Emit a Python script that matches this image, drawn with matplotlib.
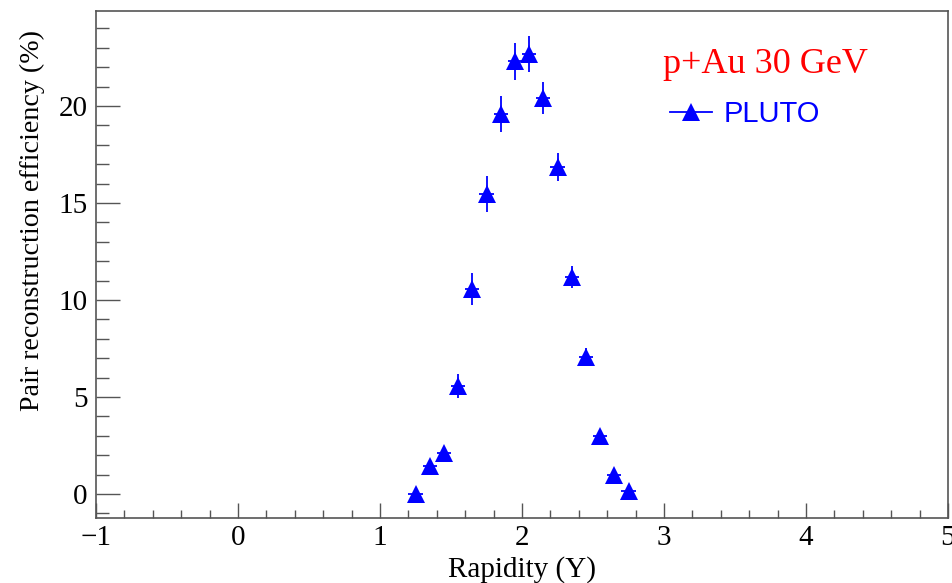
import numpy as np
import matplotlib.pyplot as plt
from matplotlib.ticker import MultipleLocator
from matplotlib.lines import Line2D

# efficiency vs rapidity (bin centres, 0.1 wide bins)
rapidity = [1.25, 1.35, 1.45, 1.55, 1.65, 1.75, 1.85, 1.95,
            2.05, 2.15, 2.25, 2.35, 2.45, 2.55, 2.65, 2.75]
efficiency = [0.0, 1.45, 2.1, 5.55, 10.55, 15.45, 19.6, 22.3,
              22.7, 20.4, 16.85, 11.2, 7.05, 2.98, 0.98, 0.15]
eff_err = [0.25, 0.3, 0.3, 0.62, 0.82, 0.92, 0.93, 0.95,
           0.92, 0.82, 0.74, 0.56, 0.46, 0.3, 0.25, 0.2]
x_err = [0.05] * len(rapidity)

serif = 'Liberation Serif'
sans = 'Liberation Sans'

fig = plt.figure(figsize=(9.52, 5.83), dpi=100)
ax = fig.add_axes([96/952, 65/583, 852/952, 507/583])

ax.errorbar(rapidity, efficiency, yerr=eff_err, xerr=x_err, fmt='^',
            color='blue', ms=12.5, mew=0, elinewidth=1.3, capsize=0)

ax.set_xlim(-1, 5)
ax.set_ylim(-1.24, 24.9)
ax.xaxis.set_major_locator(MultipleLocator(1))
ax.xaxis.set_minor_locator(MultipleLocator(0.2))
ax.yaxis.set_major_locator(MultipleLocator(5))
ax.yaxis.set_minor_locator(MultipleLocator(1))

frame = '#555555'
for s in ax.spines.values():
    s.set_color(frame)
    s.set_linewidth(1.2)
ax.tick_params(which='both', direction='in', color=frame, top=False, right=False,
               width=1.0)
ax.tick_params(axis='x', which='major', length=11, pad=5)
ax.tick_params(axis='x', which='minor', length=6)
ax.tick_params(axis='y', which='major', length=17, pad=6)
ax.tick_params(axis='y', which='minor', length=9)
for lab in ax.get_xticklabels() + ax.get_yticklabels():
    lab.set_fontfamily(serif)
    lab.set_fontsize(21)

ax.set_xlabel('Rapidity (Y)', fontfamily=serif, fontsize=21)
ax.xaxis.label.set_va('baseline')
ax.xaxis.set_label_coords(0.5, (518 - 577) / 507)
ax.set_ylabel('Pair reconstruction efficiency (%)', fontfamily=serif,
              fontsize=20.2)
ax.yaxis.label.set_ha('right')
ax.yaxis.set_label_coords((45 - 96) / 852, (518 - 30) / 507)

ax.text((663 - 96) / 852, (518 - 73) / 507, 'p+Au 30 GeV', transform=ax.transAxes,
        color='red', fontfamily=serif, fontsize=26, va='baseline')
handle = Line2D([], [], color='blue', marker='^', ms=12.5, mew=0, lw=1.3)
ax.legend([handle], ['PLUTO'], loc='center left',
          bbox_to_anchor=((670 - 96) / 852, (518 - 114) / 507),
          frameon=False, borderpad=0, borderaxespad=0,
          prop={'family': sans, 'size': 21}, handlelength=1.45,
          handletextpad=0.4, labelcolor='blue')

fig.savefig('out.png', dpi=100)
